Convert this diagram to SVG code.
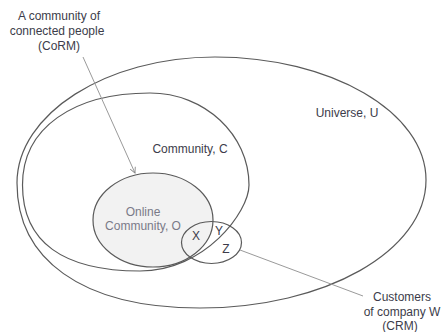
<svg xmlns="http://www.w3.org/2000/svg" width="441" height="332" viewBox="0 0 441 332">
<style>
.set{fill:none;stroke:#5a5a5a;stroke-width:1.2}
.conn{fill:none;stroke:#9a9a9a;stroke-width:1}
text{font-family:"Liberation Sans",Arial,sans-serif;font-size:12px;fill:#3c3c4a;text-anchor:middle}
.light{fill:#7a7a88}
</style>
<defs>
<marker id="arr" viewBox="0 0 10 10" refX="9" refY="5" markerWidth="7" markerHeight="7" orient="auto" markerUnits="userSpaceOnUse">
<path d="M1,1 L9,5 L1,9" fill="none" stroke="#8a8a8a" stroke-width="1.3"/>
</marker>
</defs>
<g id="online">
<ellipse cx="153" cy="220" rx="60" ry="47" fill="#f2f2f2" stroke="#5a5a5a" stroke-width="1.2"/>
<text class="light" x="143" y="216">Online</text>
<text class="light" x="143" y="230">Community, O</text>
</g>
<g id="universe">
<path class="set" d="M215,57 C331,57 426,112 426,180 C426,251 325,308 200,308 C80,308 17,258 17,183 C17,114 106,57 215,57 Z"/>
<text x="347" y="117">Universe, U</text>
</g>
<g id="community">
<path class="set" d="M150,93 C205,93 249,135 249,185 C249,212 205,271 140,271 C63,271 22.5,242 22.5,185 C22.5,128 73,93 150,93 Z"/>
<text x="190" y="153">Community, C</text>
</g>
<g id="crm">
<ellipse class="set" cx="211.5" cy="242.5" rx="30" ry="21"/>
<text x="196" y="240">X</text>
<text x="219" y="235">Y</text>
<text x="226" y="252.5">Z</text>
</g>
<g id="corm-label">
<text x="59" y="20">A community of</text>
<text x="57" y="35">connected people</text>
<text x="59" y="50">(CoRM)</text>
</g>
<g id="crm-label">
<text x="402" y="300.5">Customers</text>
<text x="402" y="315.5">of company W</text>
<text x="400" y="330">(CRM)</text>
</g>
<g id="connectors">
<line class="conn" x1="83" y1="57" x2="135" y2="173" marker-end="url(#arr)"/>
<line class="conn" x1="240" y1="250" x2="363" y2="296"/>
</g>
</svg>
